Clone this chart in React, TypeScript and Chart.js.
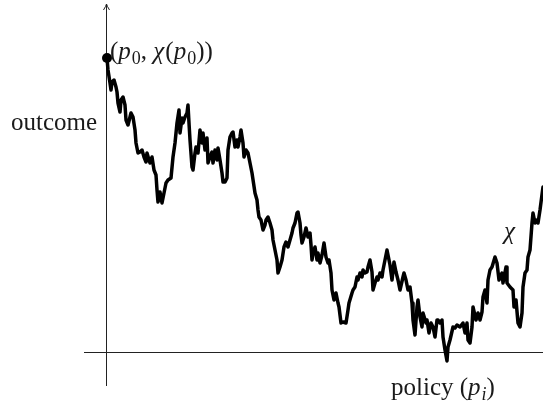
import React, { useEffect, useRef } from "react";
import { Chart, registerables } from "chart.js";

Chart.register(...registerables);

// Sampled path of the outcome function χ over the policy sequence p_i.
const policy = [
  1, 2, 4, 5, 6, 8, 10, 11, 12, 14, 15, 17, 19, 20, 22, 24, 25, 27, 29, 30,
  32, 34, 36, 38, 40, 41, 43, 44, 46, 48, 50, 51, 52, 54, 56, 58, 60, 62, 65, 67,
  69, 71, 73, 74, 76, 77, 79, 81, 82, 83, 84, 86, 87, 89, 90, 92, 94, 96, 97, 99,
  101, 102, 104, 106, 107, 109, 111, 112, 114, 116, 117, 119, 121, 122, 124, 126, 127, 129, 131, 132,
  134, 135, 137, 138, 140, 142, 144, 146, 149, 151, 152, 153, 155, 157, 159, 160, 162, 164, 166, 167,
  169, 171, 172, 174, 176, 178, 180, 182, 184, 186, 187, 189, 191, 192, 194, 195, 196, 198, 200, 202,
  204, 205, 206, 207, 209, 211, 212, 214, 216, 218, 220, 222, 223, 225, 226, 228, 230, 232, 233, 235,
  237, 240, 242, 243, 246, 247, 249, 251, 252, 254, 256, 257, 259, 261, 262, 264, 266, 267, 269, 271,
  272, 274, 276, 277, 279, 281, 284, 286, 288, 290, 292, 294, 297, 298, 300, 302, 304, 306, 307, 309,
  311, 312, 314, 316, 317, 320, 321, 323, 325, 327, 329, 331, 332, 334, 336, 337, 339, 341, 342, 344,
  347, 349, 351, 354, 357, 359, 361, 362, 364, 366, 367, 370, 372, 374, 376, 377, 379, 381, 382, 384,
  386, 389, 391, 393, 396, 397, 400, 401, 404, 407, 408, 410, 412, 414, 416, 417, 419, 421, 422, 424,
  426, 427, 429, 431, 432, 434, 437, 439,
];

const outcome = [
  294, 282, 269, 262, 270, 272, 265, 260, 249, 240, 252, 255, 247, 232, 227, 235, 239, 235, 222, 209,
  199, 200, 202, 195, 190, 199, 192, 189, 195, 182, 177, 162, 150, 160, 149, 159, 169, 172, 174, 195,
  209, 229, 242, 219, 234, 229, 235, 239, 247, 229, 212, 185, 182, 199, 205, 199, 222, 209, 219, 202,
  214, 189, 195, 200, 189, 202, 192, 204, 192, 179, 170, 170, 174, 202, 215, 219, 220, 205, 212, 205,
  215, 222, 209, 195, 202, 199, 189, 179, 159, 152, 142, 135, 132, 122, 127, 132, 135, 129, 122, 112,
  102, 92, 79, 85, 92, 105, 110, 105, 112, 119, 124, 129, 139, 140, 129, 117, 109, 115, 124, 115,
  119, 107, 92, 99, 105, 92, 99, 89, 97, 109, 95, 89, 92, 79, 62, 52, 59, 49, 45, 29,
  30, 29, 42, 49, 59, 62, 65, 75, 72, 79, 75, 82, 79, 80, 85, 92, 80, 62, 69, 75,
  72, 79, 75, 82, 92, 102, 87, 72, 90, 80, 72, 62, 75, 79, 72, 62, 65, 49, 32, 17,
  45, 52, 35, 25, 39, 29, 32, 19, 29, 25, 15, 32, 32, 29, 32, 15, 2, -9, 5, 12,
  25, 24, 27, 25, 29, 19, 29, 12, 9, 25, 45, 32, 39, 32, 40, 55, 62, 49, 72, 82,
  85, 95, 89, 72, 79, 69, 85, 69, 65, 62, 45, 52, 29, 25, 39, 65, 79, 82, 95, 102,
  129, 139, 129, 132, 129, 142, 165, 172,
];

// The marked starting point (p_0, χ(p_0)).
const startPolicy = [1];
const startOutcome = [294];

type Run = { t: string; italic?: boolean; sub?: boolean };

const startLabel: Run[] = [
  { t: "(" },
  { t: "p", italic: true },
  { t: "0", sub: true },
  { t: ", " },
  { t: "χ", italic: true },
  { t: "(" },
  { t: "p", italic: true },
  { t: "0", sub: true },
  { t: "))" },
];
const xLabel: Run[] = [
  { t: "policy (" },
  { t: "p", italic: true },
  { t: "i", italic: true, sub: true },
  { t: ")" },
];
const yLabel: Run[] = [{ t: "outcome" }];
const curveLabel: Run[] = [{ t: "χ", italic: true }];

const FONT = "'Liberation Serif', 'Times New Roman', serif";
const SIZE = 25;

function drawRuns(ctx: CanvasRenderingContext2D, runs: Run[], x: number, y: number) {
  let cx = x;
  for (const r of runs) {
    const fs = Math.round(r.sub ? SIZE * 0.7 : SIZE);
    ctx.font = `${r.italic ? "italic " : ""}${fs}px ${FONT}`;
    ctx.fillText(r.t, cx, r.sub ? y + SIZE * 0.2 : y);
    cx += ctx.measureText(r.t).width + (r.italic && !r.sub ? 1 : 0);
  }
}

// Axes with arrow tips, plus the math labels, drawn in data coordinates.
const decorations = {
  id: "decorations",
  beforeDatasetsDraw(chart: any) {
    const { ctx, scales } = chart;
    const xs = scales.x;
    const ys = scales.y;
    const x0 = Math.round(xs.getPixelForValue(0)) + 0.5;
    const y0 = Math.round(ys.getPixelForValue(0)) + 0.5;
    ctx.save();
    ctx.strokeStyle = "#222";
    ctx.lineWidth = 1;
    ctx.lineCap = "butt";
    // vertical axis
    const yTop = ys.getPixelForValue(348);
    ctx.beginPath();
    ctx.moveTo(x0, ys.getPixelForValue(-34));
    ctx.lineTo(x0, yTop);
    ctx.stroke();
    ctx.beginPath();
    ctx.moveTo(x0 - 3, yTop + 6);
    ctx.quadraticCurveTo(x0 - 0.5, yTop + 2, x0, yTop);
    ctx.quadraticCurveTo(x0 + 0.5, yTop + 2, x0 + 3, yTop + 6);
    ctx.stroke();
    // horizontal axis
    ctx.beginPath();
    ctx.moveTo(xs.getPixelForValue(-22), y0);
    ctx.lineTo(xs.getPixelForValue(445), y0);
    ctx.stroke();
    ctx.restore();
  },
  afterDatasetsDraw(chart: any) {
    const { ctx, scales } = chart;
    const xs = scales.x;
    const ys = scales.y;
    ctx.save();
    ctx.fillStyle = "#1a1a1a";
    ctx.textBaseline = "alphabetic";
    ctx.textAlign = "left";
    drawRuns(ctx, startLabel, xs.getPixelForValue(4), ys.getPixelForValue(293));
    drawRuns(ctx, yLabel, xs.getPixelForValue(-95), ys.getPixelForValue(222));
    drawRuns(ctx, xLabel, xs.getPixelForValue(285), ys.getPixelForValue(-43));
    drawRuns(ctx, curveLabel, xs.getPixelForValue(398), ys.getPixelForValue(113));
    ctx.restore();
  },
};

export default function App() {
  const ref = useRef<HTMLCanvasElement | null>(null);

  useEffect(() => {
    if (!ref.current) return;
    const chart = new Chart(ref.current, {
      type: "scatter",
      data: {
        datasets: [
          {
            data: policy.map((p, i) => ({ x: p, y: outcome[i] })),
            showLine: true,
            borderColor: "#000",
            borderWidth: 3.5,
            borderJoinStyle: "round",
            borderCapStyle: "round",
            pointRadius: 0,
            tension: 0,
          },
          {
            data: startPolicy.map((p, i) => ({ x: p, y: startOutcome[i] })),
            pointRadius: 5,
            pointBackgroundColor: "#000",
            pointBorderWidth: 0,
            clip: false,
          },
        ],
      },
      options: {
        animation: false,
        responsive: false,
        devicePixelRatio: 1,
        events: [],
        layout: { padding: 0, autoPadding: false },
        plugins: { legend: { display: false }, tooltip: { enabled: false } },
        scales: {
          x: { type: "linear", display: false, min: -106, max: 437 },
          y: { type: "linear", display: false, min: -61, max: 352 },
        },
      },
      plugins: [decorations],
    });
    // redraw once the serif faces are ready so the labels pick them up
    let alive = true;
    const faces = [`${SIZE}px ${FONT}`, `italic ${SIZE}px ${FONT}`];
    Promise.all(faces.map((f) => document.fonts.load(f)))
      .catch(() => undefined)
      .then(() => {
        if (alive) chart.draw();
      });
    return () => {
      alive = false;
      chart.destroy();
    };
  }, []);

  return (
    <div style={{ position: "fixed", left: 0, top: 0, width: 543, height: 413, background: "#fff" }}>
      <canvas ref={ref} width={543} height={413} />
    </div>
  );
}
